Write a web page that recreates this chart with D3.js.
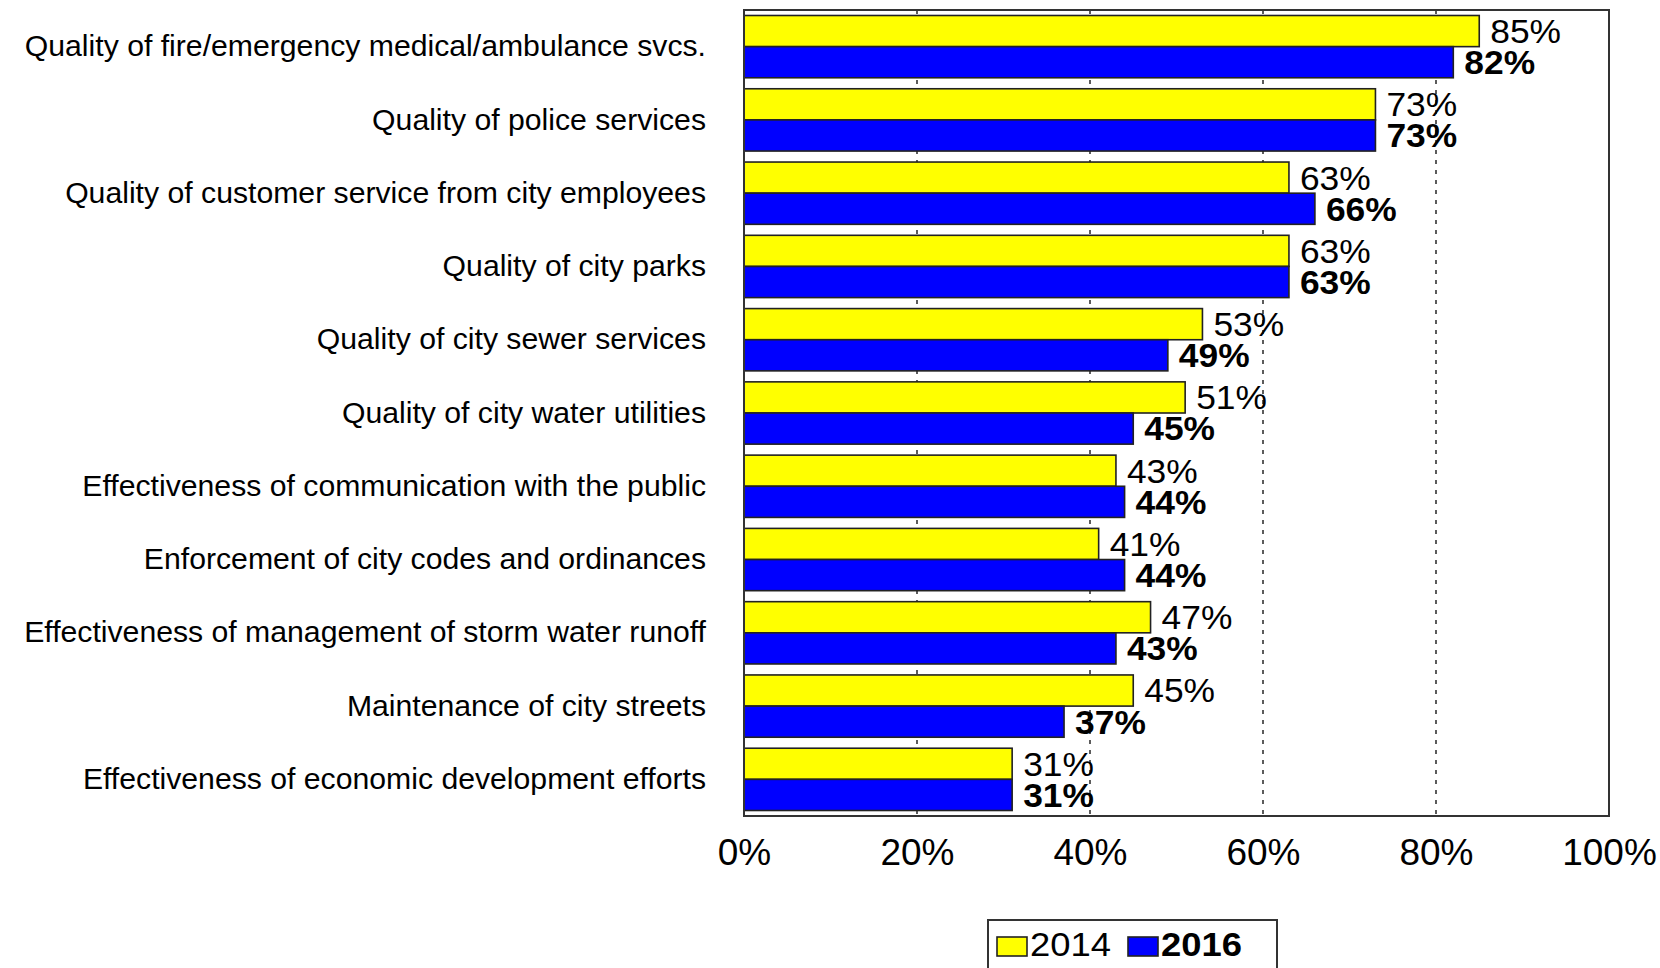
<!DOCTYPE html>
<html>
<head>
<meta charset="utf-8">
<script src="https://cdn.jsdelivr.net/npm/d3@7"></script>
<style>
  html, body { margin: 0; padding: 0; background: #fff; }
  svg { display: block; font-family: "Liberation Sans", Arial, sans-serif; }
</style>
</head>
<body>
<svg id="chart" width="1660" height="968"></svg>
<script>
// Satisfaction with city services, share of respondents (%)
const categories = [
  "Quality of fire/emergency medical/ambulance svcs.",
  "Quality of police services",
  "Quality of customer service from city employees",
  "Quality of city parks",
  "Quality of city sewer services",
  "Quality of city water utilities",
  "Effectiveness of communication with the public",
  "Enforcement of city codes and ordinances",
  "Effectiveness of management of storm water runoff",
  "Maintenance of city streets",
  "Effectiveness of economic development efforts"
];
const seriesNames = ["2014", "2016"];
const values2014 = [85, 73, 63, 63, 53, 51, 43, 41, 47, 45, 31];
const values2016 = [82, 73, 66, 63, 49, 45, 44, 44, 43, 37, 31];
const tickValues = [0, 20, 40, 60, 80, 100];
const gridValues = [20, 40, 60, 80];

const seriesValues = { "2014": values2014, "2016": values2016 };
const seriesColor = { "2014": "#ffff00", "2016": "#0000ff" };
const seriesWeight = { "2014": "normal", "2016": "bold" };

const svg = d3.select("#chart");

const plot = { left: 744, right: 1609, top: 10, bottom: 816 };

const x = d3.scaleLinear().domain([0, 100]).range([plot.left, plot.right]);
const y = d3.scaleBand().domain(categories).range([plot.top, plot.bottom])
  .paddingInner(0.15).paddingOuter(0.075);
const ySub = d3.scaleBand().domain(seriesNames).range([0, y.bandwidth()]);

// widen start-anchored text slightly, as in the original typesetting
function widen(sel, k) {
  sel.each(function () {
    const len = this.getComputedTextLength();
    d3.select(this).attr("textLength", len * k).attr("lengthAdjust", "spacingAndGlyphs");
  });
}

// dashed gridlines behind the bars
svg.append("g").selectAll("line").data(gridValues).join("line")
  .attr("x1", d => x(d)).attr("x2", d => x(d))
  .attr("y1", plot.top).attr("y2", plot.bottom)
  .attr("stroke", "#333").attr("stroke-width", 1.6)
  .attr("stroke-dasharray", "4,6");

// bars
const rows = categories.flatMap((c, i) => seriesNames.map(s => ({ cat: c, series: s, value: seriesValues[s][i] })));

svg.append("g").selectAll("rect").data(rows).join("rect")
  .attr("x", x(0))
  .attr("y", d => y(d.cat) + ySub(d.series))
  .attr("width", d => x(d.value) - x(0))
  .attr("height", ySub.bandwidth())
  .attr("fill", d => seriesColor[d.series])
  .attr("stroke", "#222").attr("stroke-width", 1.6);

// value labels
const valueLabels = svg.append("g").selectAll("text").data(rows).join("text")
  .attr("x", d => x(d.value) + 11)
  .attr("y", d => y(d.cat) + ySub(d.series) + ySub.bandwidth() / 2)
  .attr("dy", "0.35em")
  .attr("font-size", 34)
  .attr("font-weight", d => seriesWeight[d.series])
  .attr("fill", "#000")
  .text(d => d.value + "%");
widen(valueLabels, 1.04);

// plot frame
svg.append("rect")
  .attr("x", plot.left).attr("y", plot.top)
  .attr("width", plot.right - plot.left).attr("height", plot.bottom - plot.top)
  .attr("fill", "none").attr("stroke", "#333").attr("stroke-width", 2);

// category labels
const yAxis = d3.axisLeft(y).tickSize(0).tickPadding(0);
const gy = svg.append("g").attr("transform", "translate(706,0)").call(yAxis);
gy.select(".domain").remove();
gy.selectAll("text")
  .attr("font-size", 30.2)
  .attr("font-family", "'Liberation Sans', Arial, sans-serif")
  .attr("fill", "#000");

// x axis labels
const xAxis = d3.axisBottom(x).tickValues(tickValues).tickSize(0).tickPadding(0)
  .tickFormat(d => d + "%");
const gx = svg.append("g").attr("transform", "translate(0,840)").call(xAxis);
gx.select(".domain").remove();
gx.selectAll("text")
  .attr("font-size", 37)
  .attr("font-family", "'Liberation Sans', Arial, sans-serif")
  .attr("dy", "0.68em")
  .attr("fill", "#000");

// legend
const legend = svg.append("g");
legend.append("rect")
  .attr("x", 988).attr("y", 920).attr("width", 289).attr("height", 60)
  .attr("fill", "#fff").attr("stroke", "#333").attr("stroke-width", 2);
const legendX = d3.scaleOrdinal().domain(seriesNames).range([997, 1128]);
const items = legend.selectAll("g.item").data(seriesNames).join("g").attr("class", "item");
items.append("rect")
  .attr("x", d => legendX(d)).attr("y", 937)
  .attr("width", 30).attr("height", 19)
  .attr("fill", d => seriesColor[d])
  .attr("stroke", "#222").attr("stroke-width", 1.6);
const legendText = items.append("text")
  .attr("x", d => legendX(d) + 33).attr("y", 956)
  .attr("font-size", 34)
  .attr("font-weight", d => seriesWeight[d])
  .attr("fill", "#000")
  .text(d => d);
widen(legendText, 1.07);
</script>
</body>
</html>
